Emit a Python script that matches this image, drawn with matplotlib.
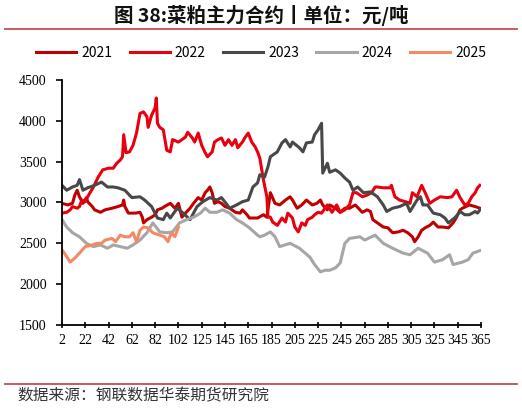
import matplotlib
matplotlib.use("Agg")
import matplotlib.pyplot as plt
from matplotlib.lines import Line2D

plt.rcParams['font.family'] = ['Noto Sans CJK SC', 'DejaVu Sans']

# x = position on the day-of-year category axis (0..360), y = price (元/吨)
tick_labels = ['2', '22', '42', '62', '82', '102', '125', '145', '165', '185',
               '205', '225', '245', '265', '285', '305', '325', '345', '365']

x_2021 = [0, 5, 9, 11, 13, 15, 18, 21, 22, 26, 28, 33, 37, 43, 48, 52, 53, 54, 57, 63,
          67, 69, 70, 73, 77, 80, 82, 86, 88, 93, 97, 100, 103, 106, 110, 113, 117, 120,
          123, 125, 127, 129, 131, 134, 137, 140, 144, 149, 153, 155, 159, 161, 166, 168,
          173, 176, 179, 183, 187, 192, 196, 198, 202, 206, 210, 215, 219, 222, 224, 228,
          230, 235, 239, 243, 247, 252, 258, 262, 265, 267, 271, 276, 280, 284, 289, 293,
          297, 301, 303, 306, 309, 312, 316, 319, 323, 327, 332, 336, 339, 342, 344, 350,
          355, 359]
y_2021 = [2990, 2970, 2990, 3090, 3150, 3070, 2990, 3060, 3010, 2950, 2910, 2880, 2910,
          2930, 2950, 2970, 3030, 2950, 2870, 2870, 2880, 2820, 2750, 2790, 2820, 2850,
          2910, 2930, 2950, 2990, 2930, 2990, 2820, 2870, 2930, 2990, 3060, 3030, 3120,
          3150, 3190, 3120, 2990, 3010, 2990, 2950, 2930, 2880, 2870, 2910, 2850, 2810,
          2810, 2810, 2850, 2820, 3120, 2990, 2970, 3030, 3070, 3030, 2930, 2970, 3030,
          2970, 2990, 3030, 2970, 2910, 2970, 2930, 2880, 2930, 2930, 2970, 2880, 2910,
          2890, 2790, 2750, 2700, 2690, 2630, 2640, 2660, 2630, 2580, 2520, 2580, 2660,
          2690, 2720, 2760, 2700, 2700, 2690, 2750, 2820, 2910, 2930, 2970, 2950, 2930]

x_2022 = [0, 4, 7, 9, 13, 15, 17, 20, 22, 27, 31, 35, 40, 44, 47, 50, 52, 53, 55, 58,
          61, 64, 67, 70, 73, 74, 77, 80, 81, 82, 84, 87, 90, 93, 95, 100, 103, 106, 108,
          112, 114, 117, 120, 123, 125, 129, 131, 134, 137, 140, 143, 146, 149, 151, 155,
          157, 160, 163, 166, 168, 170, 173, 176, 177, 179, 181, 185, 189, 192, 194, 198,
          200, 203, 206, 209, 211, 215, 217, 220, 223, 226, 228, 232, 236, 239, 243, 247,
          250, 253, 258, 262, 266, 269, 271, 276, 282, 283, 286, 290, 295, 299, 301, 305,
          309, 312, 316, 320, 325, 331, 335, 339, 342, 346, 349, 352, 355, 357, 359]
y_2022 = [2870, 2880, 2910, 2950, 2930, 2950, 3030, 3010, 3070, 3190, 3310, 3400, 3420,
          3420, 3480, 3520, 3560, 3830, 3610, 3620, 3700, 3850, 4090, 4110, 4050, 3920,
          4070, 4160, 4280, 3970, 3920, 3890, 3640, 3620, 3770, 3740, 3770, 3800, 3860,
          3790, 3740, 3850, 3700, 3610, 3560, 3620, 3740, 3770, 3790, 3700, 3770, 3700,
          3770, 3670, 3740, 3790, 3850, 3740, 3680, 3620, 3540, 3280, 3070, 2820, 2820,
          2760, 2720, 2810, 2760, 2870, 2810, 2700, 2640, 2750, 2720, 2790, 2820, 2850,
          2880, 2870, 2930, 2970, 2880, 2970, 2880, 2910, 2970, 3120, 3120, 3070, 3090,
          3120, 3190, 3190, 3180, 3180, 3210, 3070, 3030, 3010, 2990, 3120, 3070, 3210,
          3120, 2990, 3030, 3070, 3060, 3070, 3150, 3060, 2970, 2990, 3070, 3120, 3180,
          3210]

x_2023 = [0, 4, 9, 13, 15, 18, 22, 28, 34, 39, 44, 48, 54, 60, 67, 71, 77, 82, 87, 90,
          93, 99, 104, 110, 116, 121, 127, 133, 137, 142, 144, 150, 155, 160, 164, 168,
          170, 174, 177, 179, 181, 185, 189, 192, 196, 198, 204, 207, 210, 215, 217, 220,
          223, 224, 228, 230, 235, 239, 243, 247, 250, 254, 259, 265, 271, 276, 279, 284,
          290, 296, 299, 305, 308, 310, 314, 319, 325, 329, 332, 338, 342, 346, 350, 355,
          357, 359]
y_2023 = [3210, 3150, 3190, 3210, 3280, 3150, 3180, 3210, 3250, 3190, 3190, 3180, 3150,
          3060, 3070, 3030, 2950, 2810, 2790, 2870, 2810, 2930, 2870, 2790, 2950, 3010,
          3060, 3030, 3060, 2970, 2930, 2970, 3010, 3030, 3190, 3240, 3340, 3310, 3440,
          3560, 3580, 3620, 3730, 3770, 3680, 3740, 3670, 3620, 3730, 3740, 3830, 3890,
          3970, 3360, 3480, 3370, 3400, 3360, 3300, 3250, 3150, 3190, 3120, 3130, 3070,
          2970, 2890, 2930, 2950, 2990, 2890, 3030, 3070, 2970, 2970, 2870, 2850, 2810,
          2750, 2820, 2890, 2850, 2850, 2890, 2870, 2910]

x_2024 = [0, 4, 9, 15, 21, 27, 33, 39, 44, 50, 56, 61, 67, 73, 78, 84, 90, 95, 101, 107,
          113, 119, 123, 127, 133, 138, 144, 150, 155, 161, 168, 170, 174, 179, 183, 187,
          196, 204, 213, 217, 222, 226, 230, 235, 239, 243, 247, 256, 260, 269, 276, 284,
          293, 299, 306, 314, 320, 327, 333, 336, 344, 349, 353, 359]
y_2024 = [2790, 2700, 2630, 2580, 2500, 2460, 2480, 2440, 2480, 2460, 2440, 2480, 2540,
          2630, 2750, 2640, 2630, 2640, 2750, 2790, 2820, 2870, 2930, 2880, 2880, 2910,
          2870, 2790, 2750, 2690, 2600, 2580, 2600, 2640, 2580, 2460, 2500, 2440, 2330,
          2240, 2150, 2170, 2170, 2200, 2260, 2500, 2560, 2580, 2540, 2600, 2500, 2440,
          2380, 2360, 2440, 2380, 2270, 2300, 2360, 2240, 2270, 2300, 2380, 2410]

x_2025 = [0, 3, 7, 11, 15, 20, 26, 30, 34, 37, 43, 46, 50, 54, 58, 61, 64, 67, 70, 74,
          78, 84, 88, 91, 94, 97, 100]
y_2025 = [2420, 2360, 2270, 2320, 2380, 2460, 2480, 2500, 2500, 2540, 2560, 2520, 2600,
          2580, 2580, 2630, 2520, 2660, 2700, 2690, 2630, 2600, 2580, 2520, 2630, 2580,
          2700]

series = [
    ('2021', x_2021, y_2021, '#C00000'),
    ('2022', x_2022, y_2022, '#E8000F'),
    ('2023', x_2023, y_2023, '#484848'),
    ('2024', x_2024, y_2024, '#A6A6A6'),
    ('2025', x_2025, y_2025, '#F28B63'),
]

fig = plt.figure(figsize=(5.22, 4.09), dpi=100)
ax = fig.add_axes([0.1188, 0.2054, 0.8027, 0.599])

for name, xs, ys, c in series:
    ax.plot(xs, ys, color=c, lw=2.2, label=name, solid_joinstyle='round')

ax.set_xlim(0, 360)
ax.set_ylim(1500, 4500)
ax.set_xticks(range(0, 361, 20))
ax.set_xticklabels(tick_labels)
ax.set_yticks(range(1500, 4501, 500))

for s in ['top', 'right']:
    ax.spines[s].set_visible(False)
for s in ['left', 'bottom']:
    ax.spines[s].set_linewidth(1.3)
ax.tick_params(axis='y', direction='out', length=4, width=1.2, pad=7)
ax.tick_params(axis='x', direction='inout', length=5, width=1.2, pad=4)
for lab in ax.get_xticklabels() + ax.get_yticklabels():
    lab.set_family('Liberation Serif')
    lab.set_fontsize(10)

fig.legend(loc='center', bbox_to_anchor=(0.5, 0.87), ncol=5, frameon=False,
           handlelength=2.9, handletextpad=0.35, columnspacing=1.25,
           prop={'family': ['Noto Sans CJK SC', 'DejaVu Sans'], 'size': 10})

fig.text(0.5, 0.962, '图 38:菜粕主力合约丨单位：元/吨', ha='center', va='center',
         fontsize=14, fontweight='bold', color='#111111')
fig.add_artist(Line2D([0.01, 0.99], [0.930, 0.930], color='#C0504D', lw=1.3))
fig.add_artist(Line2D([0.01, 0.99], [0.061, 0.061], color='#C0504D', lw=1.3))
fig.text(0.033, 0.033, '数据来源：钢联数据华泰期货研究院', ha='left', va='center',
         fontsize=11.3, color='#333333')

fig.savefig('out.png', dpi=100)
